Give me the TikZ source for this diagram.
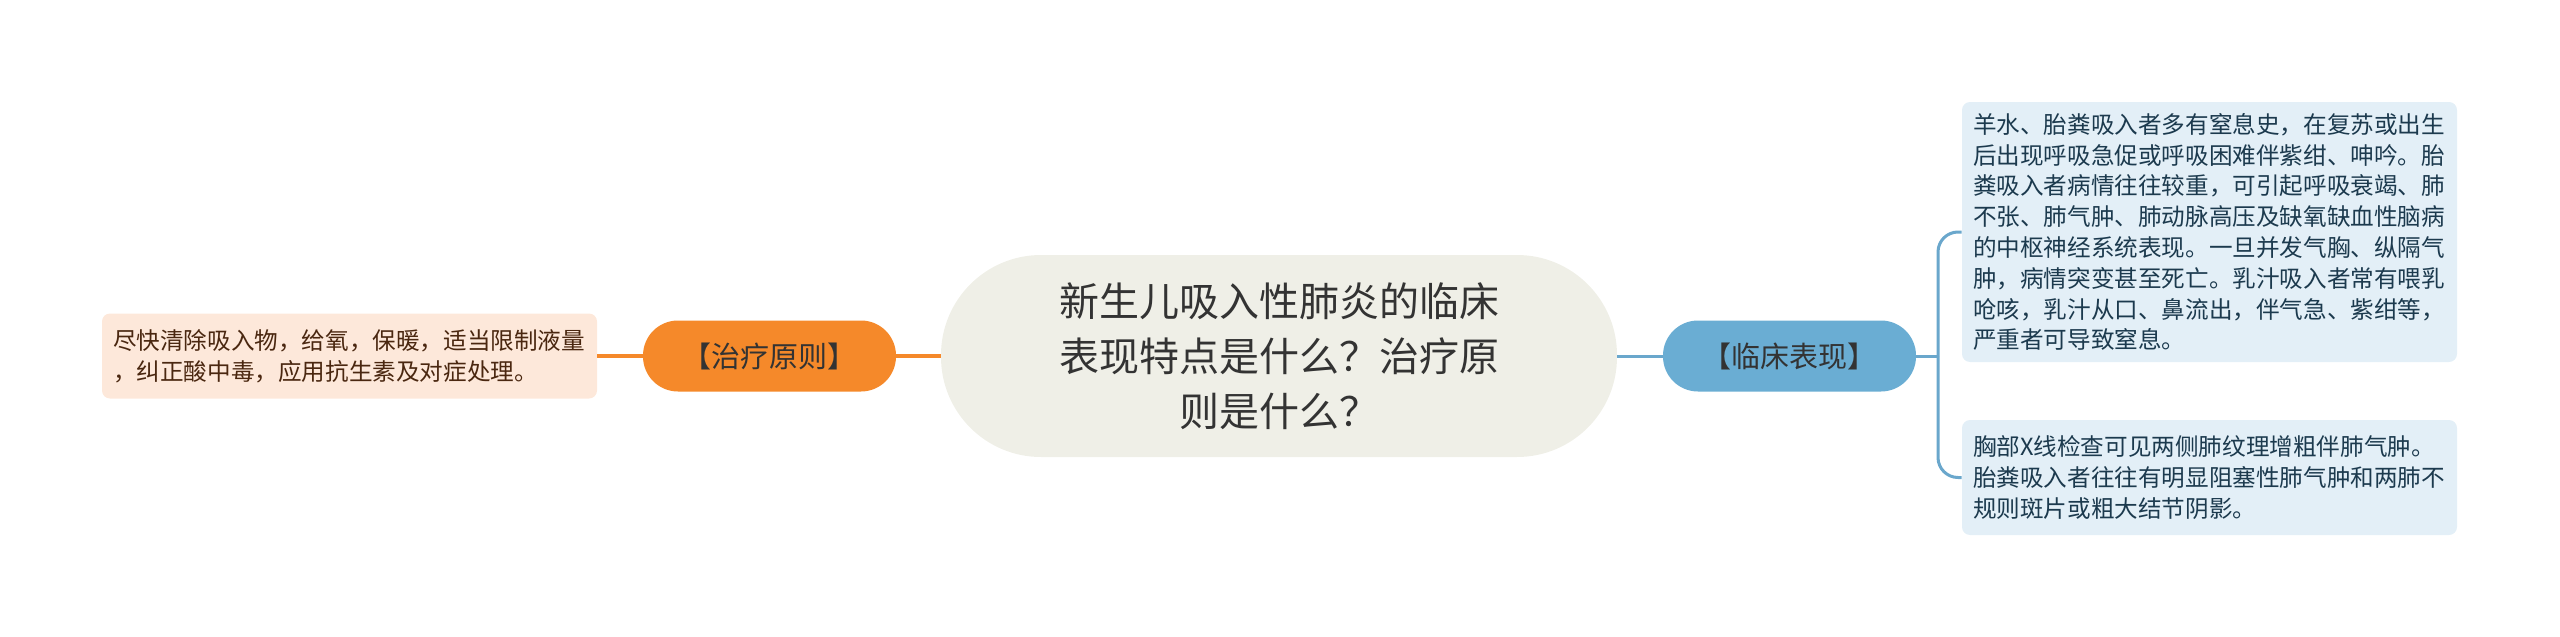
\documentclass[tikz,border=0pt]{standalone}
\usepackage{fontspec}
\setmainfont{Noto Sans CJK SC}
\definecolor{orangeC}{HTML}{F5892A}
\definecolor{peach}{HTML}{FDE8DA}
\definecolor{brownT}{HTML}{4A2710}
\definecolor{centerF}{HTML}{EFEFE7}
\definecolor{blueN}{HTML}{6AADD3}
\definecolor{blueL}{HTML}{6AA7CC}
\definecolor{blueBox}{HTML}{E3EFF7}
\definecolor{navyT}{HTML}{1C3A4E}
\definecolor{darkT}{HTML}{333333}
\tikzset{
  leafbase/.style={rounded corners=4pt, inner xsep=5.5pt, inner ysep=0pt, align=left,
    text width=236.5pt, minimum width=247.5pt,
    font=\fontsize{11.8pt}{15.4pt}\selectfont},
  leafL/.style={leafbase, fill=peach, text=brownT},
  leafB/.style={leafbase, fill=blueBox, text=navyT},
  pill/.style={rounded corners=17.5pt, minimum width=126.5pt, minimum height=35.5pt,
    inner sep=0pt, text=darkT, font=\fontsize{14.5pt}{17pt}\selectfont},
  pillO/.style={pill, fill=orangeC},
  pillB/.style={pill, fill=blueN},
  rootnode/.style={rounded corners=50pt, fill=centerF, minimum width=338pt, minimum height=101pt,
    inner sep=0pt, align=center, text=darkT, font=\fontsize{20pt}{27.5pt}\selectfont},
  lineO/.style={draw=orangeC, line width=1.7pt},
  lineB/.style={draw=blueL, line width=1.5pt},
}
\begin{document}
\begin{tikzpicture}[x=0.5pt,y=-0.5pt]
\useasboundingbox (0,0) rectangle (2560,637);
\node[leafL, minimum height=42.5pt] (treat) at (349.5,356)
  {尽快清除吸入物，给氧，保暖，适当限制液量\\，纠正酸中毒，应用抗生素及对症处理。};
\node[pillO] (principle) at (769.5,356) {【治疗原则】};
\node[rootnode] (root) at (1279,356)
  {新生儿吸入性肺炎的临床\\表现特点是什么？治疗原\\则是什么？};
\node[pillB] (clin) at (1789.5,356) {【临床表现】};
\node[leafB, minimum height=130pt] (sym) at (2209.5,232)
  {羊水、胎粪吸入者多有窒息史，在复苏或出生\\后出现呼吸急促或呼吸困难伴紫绀、呻吟。胎\\粪吸入者病情往往较重，可引起呼吸衰竭、肺\\不张、肺气肿、肺动脉高压及缺氧缺血性脑病\\的中枢神经系统表现。一旦并发气胸、纵隔气\\肿，病情突变甚至死亡。乳汁吸入者常有喂乳\\呛咳，乳汁从口、鼻流出，伴气急、紫绀等，\\严重者可导致窒息。};
\node[leafB, minimum height=57.5pt] (xray) at (2209.5,477.5)
  {胸部X线检查可见两侧肺纹理增粗伴肺气肿。\\胎粪吸入者往往有明显阻塞性肺气肿和两肺不\\规则斑片或粗大结节阴影。};
\draw[lineO] (treat.east) -- (principle.west);
\draw[lineO] (principle.east) -- (root.west);
\draw[lineB] (root.east) -- (clin.west);
\coordinate (fork) at (1938,356);
\draw[lineB] (clin.east) -- (fork);
\draw[lineB, rounded corners=10pt] (fork) |- (sym.west);
\draw[lineB, rounded corners=10pt] (fork) |- (xray.west);
\end{tikzpicture}
\end{document}
